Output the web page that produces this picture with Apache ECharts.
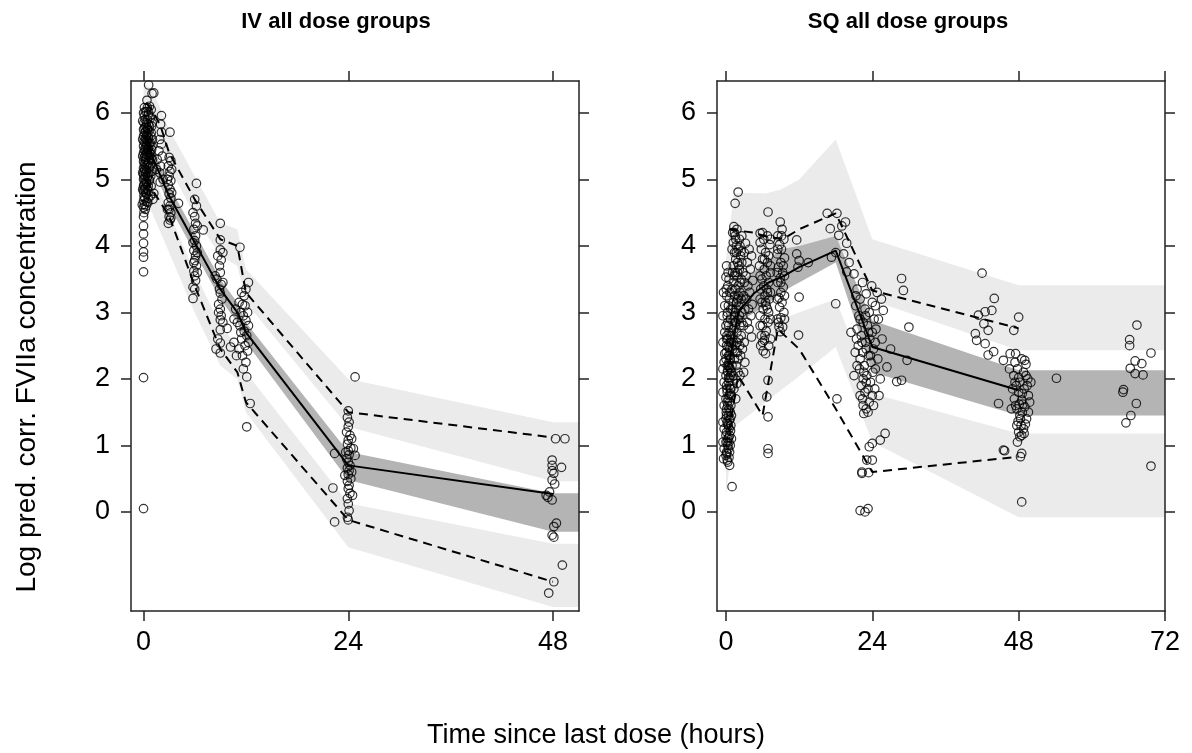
<!DOCTYPE html>
<html>
<head>
<meta charset="utf-8">
<script src="https://cdn.jsdelivr.net/npm/echarts@6/dist/echarts.min.js"></script>
<style>
html,body{margin:0;padding:0;background:#fff;}
#c{width:1192px;height:753px;}
</style>
</head>
<body>
<div id="c"></div>
<script>
// ---------- text ----------
const panelTitles = ['IV all dose groups', 'SQ all dose groups'];
const xTitle = 'Time since last dose (hours)';
const yTitle = 'Log pred. corr. FVIIa concentration';
const yTicks = [0, 1, 2, 3, 4, 5, 6];
const ivXTicks = [0, 24, 48];
const sqXTicks = [0, 24, 48, 72];

// ---------- IV panel: simulated prediction-interval bands ----------
const ivBandT   = [0, 1, 2, 3, 6, 9, 11, 12, 24, 48];
const ivUpperHi = [6.45, 6.35, 6.05, 5.75, 5.05, 4.35, 4.25, 3.65, 2.00, 1.35];
const ivUpperLo = [5.95, 5.85, 5.55, 5.20, 4.45, 3.85, 3.70, 3.15, 1.28, 0.46];
const ivMedHi   = [5.80, 5.50, 5.20, 4.90, 4.20, 3.50, 3.15, 2.85, 0.90, 0.28];
const ivMedLo   = [5.50, 5.20, 4.90, 4.60, 3.90, 3.20, 2.85, 2.55, 0.48, -0.30];
const ivLowerHi = [5.30, 5.10, 4.80, 4.50, 3.60, 2.80, 2.50, 2.10, 0.13, -0.48];
const ivLowerLo = [4.70, 4.50, 4.20, 3.90, 3.00, 2.20, 2.00, 1.50, -0.53, -1.43];
// IV observed percentiles
const ivObsT = [0.3, 1, 2, 3, 6, 9, 11, 12, 24, 48];
const ivP95  = [6.15, 6.05, 5.80, 5.40, 4.70, 4.10, 4.00, 3.30, 1.50, 1.12];
const ivP50  = [5.65, 5.35, 5.05, 4.75, 4.05, 3.35, 3.00, 2.70, 0.70, 0.27];
const ivP05  = [5.00, 4.85, 4.65, 4.45, 3.40, 2.45, 2.10, 1.65, -0.12, -1.05];
// IV observations [time, value]
const ivObs = [
[0,6.0],[0.1,5.95],[0.2,5.9],[0.05,5.85],[0.3,5.8],[0.15,5.78],[0,5.75],[0.25,5.72],[0.1,5.7],[0.4,5.68],[0,5.65],[0.2,5.62],[0.3,5.6],[0.05,5.57],[0.15,5.55],[0.35,5.52],[0,5.5],[0.25,5.48],[0.1,5.45],[0.2,5.42],[0,5.4],[0.3,5.38],[0.15,5.35],[0.05,5.32],[0.25,5.3],[0,5.27],[0.2,5.25],[0.1,5.22],[0.3,5.2],[0,5.17],[0.15,5.15],[0.05,5.12],[0.25,5.1],[0,5.07],[0.2,5.05],[0.1,5.02],[0,5.0],[0.3,4.97],[0.15,4.95],[0.05,4.92],[0,4.9],[0.2,4.87],[0.1,4.85],[0,4.82],[0.25,4.8],[0.05,4.75],[0.15,4.72],[0,4.68],[0.1,4.62],[0,4.58],[0.2,4.55],[0.05,4.5],[0,4.44],[0,4.18],[0,4.04],[0,3.91],[0,3.83],[0,3.61],[0,2.02],[0,0.05],
[0.45,6.08],[0.35,6.02],[0.55,5.97],[0.45,5.9],[0.35,5.85],[0.55,5.83],[0.45,5.77],[0.65,5.73],[0.35,5.66],[0.55,5.64],[0.45,5.58],[0.65,5.54],[0.4,5.5],[0.55,5.47],[0.45,5.41],[0.65,5.36],[0.35,5.33],[0.55,5.28],[0.45,5.23],[0.65,5.18],[0.35,5.14],[0.55,5.09],[0.45,5.04],[0.65,5.0],[0.35,4.94],[0.55,4.9],[0.45,4.84],[0.35,4.78],[0.55,4.72],[0.4,4.66],[0.3,4.6],[-0.1,5.88],[-0.1,5.6],[-0.1,5.35],[-0.1,5.1],[-0.1,4.85],[-0.15,4.62],[0.85,5.65],[0.85,5.38],[0.85,5.05],[0.95,5.8],[0.95,5.45],[1.05,5.6],[1.05,5.3],[0.75,5.95],[0.75,5.5],[0.75,5.1],[0.2,6.02],[0.1,6.08],[0,4.3],
[0.6,6.42],[1.0,6.29],[0.4,6.19],[1.2,6.3],[0.7,6.1],[0.9,6.05],[0.6,6.0],[0.8,5.92],[1.0,5.85],[0.7,5.8],[0.5,5.75],[0.9,5.7],[0.6,5.62],[0.8,5.55],[1.0,5.5],[0.5,5.45],[0.7,5.4],[0.9,5.32],[0.6,5.25],[0.8,5.2],[1.0,5.12],[0.5,5.05],[0.7,4.98],[0.9,4.9],[0.6,4.82],[0.8,4.75],[1.1,4.7],[0.5,4.65],
[2.1,5.96],[2.0,5.83],[2.1,5.71],[1.9,5.6],[2.1,5.53],[1.8,5.43],[2.2,5.35],[1.6,5.3],[2.0,5.2],[1.9,5.1],[1.95,4.96],[1.2,4.79],[2.3,5.0],[1.5,5.15],
[3.1,5.71],[3.0,5.33],[3.2,5.28],[2.9,5.2],[3.1,5.12],[3.0,5.05],[3.2,4.98],[2.9,4.92],[3.1,4.85],[3.0,4.78],[3.2,4.72],[2.9,4.65],[3.1,4.6],[3.0,4.55],[3.2,4.5],[3.0,4.44],[3.1,4.39],[2.9,4.34],[4.1,4.64],[2.8,5.0],[3.3,4.8],[3.3,5.15],[2.8,4.55],[3.2,4.42],
[6.2,4.94],[6.0,4.7],[6.2,4.6],[6.0,4.44],[6.1,4.34],[5.9,4.25],[6.1,4.15],[6.0,4.08],[6.2,4.0],[5.9,3.93],[6.1,3.85],[6.0,3.78],[6.2,3.7],[5.9,3.62],[6.0,3.55],[6.1,3.48],[5.8,3.38],[5.8,3.21],[7.0,4.24],[5.8,4.5],[6.3,4.3],[5.8,4.05],[6.3,3.9],[5.9,3.75],[6.3,3.6],[6.0,3.35],
[9.0,4.34],[9.0,4.09],[9.0,3.94],[9.1,3.79],[8.9,3.7],[9.0,3.6],[8.6,3.5],[9.1,3.42],[8.9,3.35],[9.0,3.29],[9.2,3.2],[8.8,3.12],[9.0,3.05],[9.1,2.95],[9.0,2.89],[9.0,2.74],[9.8,2.76],[9.0,2.54],[9.0,2.39],[10.2,2.48],[8.4,3.55],[8.5,2.45],[9.3,3.9],[8.7,3.85],[9.3,3.45],[8.8,3.0],[9.3,2.85],[8.7,2.6],
[11.3,3.98],[11.5,3.3],[11.8,3.25],[11.2,3.15],[11.9,3.1],[11.4,3.0],[11.7,2.95],[12.0,2.88],[11.3,2.8],[11.8,2.72],[12.1,2.65],[11.5,2.6],[11.9,2.5],[12.2,2.42],[11.6,2.35],[12.0,2.25],[11.7,2.15],[12.1,2.03],[12.5,1.63],[12.1,1.28],[10.6,2.9],[10.8,3.05],[11.0,2.85],[12.3,3.45],[12.0,3.35],[10.6,2.55],[10.9,2.35],[11.4,2.7],[12.3,2.8],[11.6,3.12],[12.3,2.55],[11.2,2.45],[12.2,3.0],
[24.0,1.52],[23.9,1.42],[24.1,1.35],[24.0,1.28],[23.8,1.2],[24.2,1.15],[24.0,1.08],[23.9,1.02],[24.3,0.96],[24.0,0.92],[24.1,0.86],[23.8,0.8],[24.0,0.75],[24.2,0.7],[23.9,0.66],[24.1,0.62],[24.0,0.56],[24.3,0.5],[23.9,0.46],[24.1,0.4],[24.0,0.35],[24.2,0.28],[23.9,0.2],[24.0,0.12],[24.1,0.02],[23.9,-0.08],[24.0,-0.12],[22.4,0.88],[22.2,0.36],[22.4,-0.15],[24.8,2.03],[24.6,0.95],[24.8,0.85],[23.6,0.55],[24.5,0.25],[24.4,0.6],[23.7,0.9],[24.4,1.1],
[48.3,1.10],[49.4,1.10],[47.9,0.78],[47.9,0.70],[49.0,0.67],[47.9,0.62],[48.1,0.58],[47.9,0.48],[47.2,0.25],[47.4,0.22],[47.9,0.18],[48.4,-0.17],[48.1,-0.22],[47.9,-0.35],[48.1,-0.38],[49.1,-0.80],[48.1,-1.05],[47.5,-1.22],[48.2,0.42],[47.6,0.3]
];

// ---------- SQ panel: simulated prediction-interval bands ----------
const sqBandT   = [0, 1.3, 3, 6.5, 9, 12, 18, 24, 48];
const sqUpperHi = [3.80, 4.79, 4.80, 4.79, 4.85, 5.00, 5.60, 4.10, 3.41];
const sqUpperLo = [2.60, 3.30, 3.45, 3.55, 3.65, 3.80, 4.10, 3.18, 2.43];
const sqMedHi   = [2.70, 3.30, 3.50, 3.75, 3.95, 4.00, 4.15, 2.88, 2.13];
const sqMedLo   = [1.70, 2.60, 2.90, 3.10, 3.30, 3.45, 3.75, 2.10, 1.45];
const sqLowerHi = [2.20, 2.60, 2.70, 2.80, 2.90, 3.00, 3.20, 1.78, 1.18];
const sqLowerLo = [0.23, 1.28, 1.40, 1.65, 1.83, 2.04, 2.48, 1.05, -0.08];
// SQ observed percentiles
const sqP95T = [0.5, 2, 4.5, 7, 9.5, 12, 18, 24, 48];
const sqP95  = [4.25, 4.23, 4.20, 4.13, 4.11, 4.25, 4.49, 3.33, 2.76];
const sqP50T = [0.5, 2, 4.5, 7, 9.5, 12, 18, 24, 48];
const sqP50  = [2.20, 3.00, 3.28, 3.45, 3.55, 3.68, 3.93, 2.48, 1.83];
const sqP05T = [0.5, 2, 4, 6, 8.5, 12, 18, 24, 48];
const sqP05  = [1.20, 2.05, 1.75, 1.45, 2.75, 2.45, 1.55, 0.60, 0.83];
// SQ observations [time, value]
const sqObs = [
[0.0,0.85],[0.6,0.70],[1.0,0.38],[0.2,0.78],[0.5,0.82],[0.1,0.9],[0.4,0.95],[0.7,1.0],[0.0,1.05],[0.3,1.1],[0.6,1.15],[0.1,1.2],[0.5,1.25],[0.8,1.3],[0.2,1.35],[0.0,1.4],[0.4,1.45],[0.7,1.5],[0.1,1.55],[0.3,1.6],[0.6,1.65],[0.0,1.7],[0.5,1.75],[0.2,1.8],[0.8,1.85],[0.1,1.9],[0.4,1.95],[0.6,2.0],[0.0,2.05],[0.3,2.1],[0.7,2.15],[0.2,2.2],[0.5,2.25],[0.0,2.3],[0.4,2.35],[-0.2,2.38],[0.6,2.45],[0.1,2.5],[0.3,2.6],[0.5,2.7],[0.0,2.8],[0.2,2.95],[0.4,3.1],[0.1,3.25],[0.3,3.4],[0.0,3.53],[0.5,1.05],[0.3,0.75],[0.7,1.4],[0.2,1.65],[0.6,1.9],[0.4,2.2],[0.1,1.45],[0.5,1.55],[0.7,2.3],
[-0.3,0.95],[0.9,1.1],[-0.3,1.25],[0.9,1.45],[-0.3,1.6],[0.9,1.75],[-0.3,1.95],[0.9,2.1],[-0.3,2.25],[0.9,2.55],[0.15,0.88],[0.45,1.12],[0.75,1.22],[0.25,1.32],[0.55,1.38],[0.05,1.5],[0.35,1.7],[0.65,1.78],[0.15,1.85],[0.45,2.02],[0.75,2.05],[0.25,2.12],[0.55,2.18],[0.05,2.4],[0.35,2.48],[0.65,2.55],[0.15,2.65],[0.45,2.8],[0.75,2.9],[0.25,3.0],[0.55,3.2],[0.05,3.35],[0.35,3.6],[0.65,3.3],[-0.2,2.7],[-0.2,3.1],[0.8,2.65],[0.8,3.05],[0.1,3.7],[0.5,3.5],[0.3,1.0],[0.6,0.9],[0.0,1.15],[0.8,1.6],[0.2,1.05],[0.7,1.85],[0.4,1.3],[0.1,2.6],[0.6,2.35],[0.3,2.85],
[-0.5,1.35],[-0.5,1.8],[-0.5,2.15],[-0.5,2.55],[-0.5,2.95],[-0.4,3.3],[-0.5,1.05],[-0.4,0.8],
[2.0,4.81],[1.5,4.64],[1.3,4.29],[1.8,4.25],[1.5,4.15],[2.2,4.1],[1.2,4.05],[1.7,4.0],[2.0,3.95],[1.4,3.9],[2.4,3.85],[1.6,3.8],[1.9,3.75],[1.2,3.7],[2.2,3.65],[1.5,3.6],[1.8,3.55],[2.5,3.5],[1.3,3.45],[2.0,3.4],[1.6,3.35],[2.3,3.3],[1.4,3.25],[1.9,3.2],[1.2,3.15],[2.1,3.1],[1.7,3.05],[2.6,3.0],[1.4,2.95],[2.0,2.9],[1.6,2.85],[2.3,2.8],[1.3,2.75],[1.8,2.7],[2.1,2.6],[1.5,2.5],[1.9,2.4],[1.4,2.3],[1.7,2.2],[2.0,2.1],[1.5,2.0],[1.8,1.93],[1.3,1.85],[1.6,1.7],
[1.1,4.2],[2.6,4.15],[1.0,3.95],[2.5,3.92],[1.1,3.6],[2.6,3.75],[1.0,3.35],[2.5,3.2],[1.1,3.05],[2.6,2.85],[1.0,2.6],[2.5,2.65],[1.1,2.45],[2.4,2.35],[1.0,2.2],[2.3,2.05],[1.4,4.2],[2.3,4.0],[1.7,3.9],[2.1,3.7],[1.35,3.55],[2.05,3.25],[1.75,3.15],[1.45,2.85],[2.2,2.95],[1.85,2.55],[1.25,2.55],[2.25,2.5],[1.65,2.4],[1.2,2.05],[2.0,2.3],[1.55,3.0],[1.9,3.6],[1.6,4.1],[2.3,3.45],
[3.2,4.04],[3.8,3.95],[4.2,3.85],[3.5,3.75],[4.0,3.65],[3.3,3.55],[4.4,3.48],[3.6,3.4],[3.9,3.3],[3.4,3.2],[4.3,3.12],[3.7,3.05],[4.1,2.95],[3.5,2.85],[3.8,2.75],[4.2,2.63],[2.8,3.6],[2.9,3.25],[3.0,2.55],[2.7,2.45],
[3.0,3.9],[3.0,3.45],[3.1,3.05],[2.9,2.8],[3.1,2.25],[2.9,2.1],
[6.9,4.51],[5.6,4.19],[6.8,4.15],[6.2,4.1],[7.2,4.02],[5.8,3.95],[6.5,3.9],[7.0,3.85],[6.0,3.8],[6.8,3.75],[5.5,3.7],[6.3,3.65],[7.3,3.6],[6.6,3.55],[5.9,3.5],[7.0,3.45],[6.2,3.4],[5.7,3.35],[6.8,3.3],[6.4,3.25],[7.1,3.2],[5.9,3.15],[6.6,3.1],[6.1,3.05],[7.0,3.0],[5.6,2.95],[6.4,2.9],[6.9,2.85],[6.0,2.8],[6.6,2.72],[5.8,2.65],[6.3,2.58],[7.0,2.5],[6.1,2.42],[6.5,2.38],[6.9,1.98],[6.7,1.73],[6.9,1.43],[6.9,0.95],[6.9,0.88],
[5.6,4.05],[7.3,4.1],[6.0,4.2],[7.3,3.7],[5.6,3.55],[7.3,3.3],[5.6,3.2],[7.3,2.9],[5.6,2.8],[7.3,2.6],[5.7,2.5],[6.5,3.15],[6.3,3.8],[6.7,3.35],[6.0,2.55],[6.4,2.65],[6.8,3.05],
[8.9,4.36],[9.2,4.25],[8.5,4.15],[9.5,4.1],[8.8,4.02],[9.1,3.95],[8.4,3.88],[9.6,3.82],[9.0,3.75],[8.6,3.68],[9.3,3.6],[8.9,3.52],[8.5,3.45],[9.4,3.38],[9.0,3.3],[8.7,3.22],[9.2,3.15],[8.8,3.08],[9.5,3.0],[9.0,2.92],[8.6,2.85],[9.3,2.78],[8.9,2.71],
[8.4,3.6],[9.6,3.55],[8.4,3.2],[9.6,3.25],[8.4,2.9],[9.6,2.9],[8.5,3.95],[9.4,3.7],[9.0,3.45],[9.1,4.15],[8.7,2.78],
[11.6,4.09],[11.6,3.88],[12.0,3.78],[11.8,3.68],[12.0,3.23],[11.9,2.66],[13.5,3.75],
[16.6,4.49],[18.2,4.49],[17.1,4.26],[18.5,4.16],[19.6,4.36],[19.8,4.04],[19.3,3.88],[17.3,3.83],[18.0,3.9],[19.8,3.61],[18.0,3.13],[18.2,1.70],[19.0,4.3],[20.2,3.75],
[21.0,3.58],[22.4,3.45],[21.5,3.35],[23.0,3.28],[22.0,3.2],[24.0,3.15],[21.3,3.1],[22.8,3.05],[23.5,3.0],[21.8,2.95],[24.3,2.9],[22.5,2.85],[23.2,2.8],[21.5,2.75],[24.0,2.7],[22.2,2.65],[23.6,2.6],[22.9,2.55],[21.7,2.5],[24.2,2.45],[22.4,2.4],[23.4,2.35],[22.0,2.3],[23.8,2.25],[22.7,2.2],[21.9,2.15],[24.1,2.1],[23.1,2.05],[22.5,2.0],[23.7,1.95],[22.2,1.9],[23.3,1.85],[22.8,1.8],[24.0,1.75],[22.4,1.7],[23.5,1.65],[23.0,1.55],[22.6,1.48],[26.1,1.18],[25.3,1.08],[24.0,1.03],[24.0,0.78],[22.3,0.58],[23.4,0.59],[22.3,0.60],[23.1,0.78],[23.5,0.98],[22.0,0.02],[22.8,0.0],[23.3,0.05],[24.8,3.3],[25.5,3.2],[25.0,2.9],[25.6,2.6],[24.9,2.3],[25.3,2.0],[25.1,1.75],[21.2,2.4],[21.0,2.05],[23.9,3.4],[20.5,2.7],
[21.3,3.25],[24.5,3.1],[22.0,2.9],[24.6,2.75],[21.4,2.6],[24.5,2.55],[21.5,2.2],[24.5,2.15],[22.0,1.75],[24.4,1.85],[22.5,1.6],[24.2,1.6],[23.3,1.5],[22.9,2.95],[23.0,2.45],[22.6,2.1],[23.4,2.7],[23.7,2.35],[22.3,2.55],[23.0,1.95],
[28.8,3.51],[29.1,3.33],[30.0,2.78],[29.7,2.28],[28.0,1.96],[28.8,1.98],[26.4,2.18],[25.8,3.03],[27.0,2.45],
[42.0,3.59],[44.0,3.21],[43.6,3.03],[42.5,3.01],[41.4,2.96],[42.3,2.83],[43.0,2.73],[40.9,2.68],[41.1,2.58],[42.5,2.53],[43.9,2.41],[43.0,2.36],[48.0,2.93],[47.2,2.73],[46.6,2.38],[45.5,2.28],[44.7,1.63],[45.5,0.93],
[47.5,2.38],[48.5,2.3],[49.2,2.22],[47.8,2.15],[48.8,2.1],[47.2,2.05],[49.5,2.0],[48.2,1.95],[47.6,1.9],[48.9,1.85],[48.0,1.8],[49.6,1.75],[47.3,1.7],[48.5,1.68],[48.1,1.62],[49.0,1.58],[47.7,1.55],[48.6,1.5],[48.2,1.45],[49.3,1.4],[47.9,1.36],[48.4,1.3],[48.8,1.25],[48.0,1.2],[48.5,1.15],[48.2,1.13],[48.5,0.88],[48.3,0.83],[48.5,0.15],[45.7,0.92],[46.5,2.15],[46.8,1.55],[49.8,1.65],[47.0,1.85],[50.0,1.95],
[47.4,2.25],[49.0,2.28],[47.4,1.95],[49.4,1.9],[47.5,1.6],[49.6,1.5],[47.7,1.3],[49.1,1.32],[47.8,1.05],[48.9,1.18],[48.0,2.02],[48.6,1.78],[48.3,1.4],[49.2,2.05],[48.7,1.62],
[54.2,2.01],
[67.4,2.81],[66.2,2.59],[66.2,2.50],[69.7,2.39],[67.1,2.27],[68.2,2.23],[66.3,2.16],[67.1,2.08],[68.4,2.06],[65.2,1.84],[65.1,1.80],[67.3,1.63],[66.4,1.45],[65.6,1.34],[69.7,0.69]
];

// ---------- styling / layout ----------
const FONT = '"Liberation Sans", Arial, sans-serif';
const LIGHT = '#ebebeb';
const DARK = '#b4b4b4';
const FRAME = '#222';
const Y_MIN = -1.49, Y_MAX = 6.48;
const IV_XMIN = -1.47, IV_XMAX = 51.05;
const SQ_XMIN = -1.47, SQ_XMAX = 72;

function zip(a, b) { return a.map((v, i) => [v, b[i]]); }

function band(gi, t, lo, hi, color, xEnd, z) {
  return {
    type: 'custom', xAxisIndex: gi * 2, yAxisIndex: gi * 2, silent: true, z: z,
    data: t.map((x, i) => [x, lo[i], hi[i]]),
    encode: { x: 0, y: [1, 2] },
    renderItem: function (params, api) {
      if (params.dataIndex !== 0) return null;
      const p = [];
      for (let i = 0; i < t.length; i++) p.push(api.coord([t[i], hi[i]]));
      p.push(api.coord([xEnd, hi[hi.length - 1]]));
      p.push(api.coord([xEnd, lo[lo.length - 1]]));
      for (let i = t.length - 1; i >= 0; i--) p.push(api.coord([t[i], lo[i]]));
      return { type: 'polygon', shape: { points: p }, style: { fill: color } };
    }
  };
}
function line(gi, t, v, dashed) {
  return {
    type: 'line', xAxisIndex: gi * 2, yAxisIndex: gi * 2, data: zip(t, v),
    showSymbol: false, symbol: 'none', silent: true, z: 5,
    lineStyle: { color: '#000', width: 2, type: dashed ? [9, 6] : 'solid' }
  };
}
function pts(gi, d) {
  return {
    type: 'scatter', xAxisIndex: gi * 2, yAxisIndex: gi * 2, data: d, z: 4, silent: true,
    symbol: 'circle', symbolSize: 8.5, large: false,
    itemStyle: { color: 'rgba(0,0,0,0)', borderColor: '#000', borderWidth: 1.2 }
  };
}
function xAx(gi, min, max, ticks, pos) {
  return {
    type: 'value', gridIndex: gi, position: pos, min: min, max: max, z: 10,
    axisLine: { show: true, onZero: false, lineStyle: { color: FRAME, width: 1.5 } },
    axisTick: { show: true, inside: false, length: 10, customValues: ticks, lineStyle: { color: FRAME, width: 1.5 } },
    axisLabel: { show: pos === 'bottom', customValues: ticks, margin: 18, fontSize: 27, color: '#000', fontFamily: FONT },
    splitLine: { show: false }
  };
}
function yAx(gi, pos) {
  return {
    type: 'value', gridIndex: gi, position: pos, min: Y_MIN, max: Y_MAX, z: 10,
    axisLine: { show: true, onZero: false, lineStyle: { color: FRAME, width: 1.5 } },
    axisTick: { show: true, inside: false, length: 10, customValues: yTicks, lineStyle: { color: FRAME, width: 1.5 } },
    axisLabel: { show: pos === 'left', customValues: yTicks, margin: 21, fontSize: 27, color: '#000', fontFamily: FONT },
    splitLine: { show: false }
  };
}

const chart = echarts.init(document.getElementById('c'), null, { renderer: 'canvas' });
chart.setOption({
  animation: false,
  backgroundColor: '#fff',
  grid: [
    { left: 131, top: 81, width: 448, height: 530 },
    { left: 717, top: 81, width: 448, height: 530 }
  ],
  xAxis: [
    xAx(0, IV_XMIN, IV_XMAX, ivXTicks, 'bottom'),
    xAx(0, IV_XMIN, IV_XMAX, ivXTicks, 'top'),
    xAx(1, SQ_XMIN, SQ_XMAX, sqXTicks, 'bottom'),
    xAx(1, SQ_XMIN, SQ_XMAX, sqXTicks, 'top')
  ],
  yAxis: [
    yAx(0, 'left'), yAx(0, 'right'), yAx(1, 'left'), yAx(1, 'right')
  ],
  graphic: [
    { type: 'text', x: 336, y: 22, style: { text: panelTitles[0], font: 'bold 22px ' + FONT, fill: '#000', align: 'center', verticalAlign: 'middle' } },
    { type: 'text', x: 908, y: 22, style: { text: panelTitles[1], font: 'bold 22px ' + FONT, fill: '#000', align: 'center', verticalAlign: 'middle' } },
    { type: 'text', x: 596, y: 736, style: { text: xTitle, font: '27px ' + FONT, fill: '#000', align: 'center', verticalAlign: 'middle' } },
    { type: 'text', x: 27, y: 377, rotation: Math.PI / 2, style: { text: yTitle, font: '28px ' + FONT, fill: '#000', align: 'center', verticalAlign: 'middle' } }
  ],
  series: [
    band(0, ivBandT, ivUpperLo, ivUpperHi, LIGHT, IV_XMAX, 1),
    band(0, ivBandT, ivLowerLo, ivLowerHi, LIGHT, IV_XMAX, 1),
    band(0, ivBandT, ivMedLo, ivMedHi, DARK, IV_XMAX, 2),
    pts(0, ivObs),
    line(0, ivObsT, ivP95, true),
    line(0, ivObsT, ivP50, false),
    line(0, ivObsT, ivP05, true),
    band(1, sqBandT, sqUpperLo, sqUpperHi, LIGHT, SQ_XMAX, 1),
    band(1, sqBandT, sqLowerLo, sqLowerHi, LIGHT, SQ_XMAX, 1),
    band(1, sqBandT, sqMedLo, sqMedHi, DARK, SQ_XMAX, 2),
    pts(1, sqObs),
    line(1, sqP95T, sqP95, true),
    line(1, sqP50T, sqP50, false),
    line(1, sqP05T, sqP05, true)
  ]
});
</script>
</body>
</html>
